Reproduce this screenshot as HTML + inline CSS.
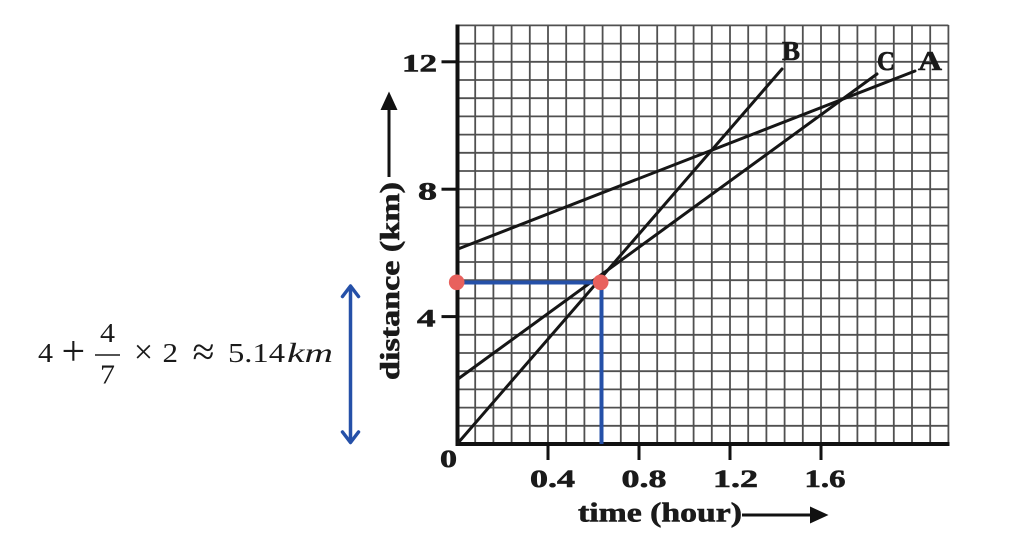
<!DOCTYPE html>
<html>
<head>
<meta charset="utf-8">
<style>
  html, body { margin: 0; padding: 0; background: #ffffff; }
  body { width: 1024px; height: 535px; overflow: hidden; }
  svg { display: block; }
  .tick { font-family: "Liberation Serif", serif; font-weight: bold; font-size: 25px; fill: #1a1a1a; stroke: #1a1a1a; stroke-width: 0.6px; }
  .lbl { font-family: "Liberation Serif", serif; font-weight: bold; font-size: 27px; fill: #1a1a1a; stroke: #1a1a1a; stroke-width: 0.6px; }
  .math { font-family: "Liberation Serif", serif; font-size: 27px; fill: #1a1a1a; }
</style>
</head>
<body>
<svg width="1024" height="535" viewBox="0 0 1024 535" xmlns="http://www.w3.org/2000/svg">
  <rect x="0" y="0" width="1024" height="535" fill="#ffffff"/>

  <g stroke="#505050" stroke-width="1.8" fill="none">
    <line x1="475.2" y1="25" x2="475.2" y2="444"/>
    <line x1="493.4" y1="25" x2="493.4" y2="444"/>
    <line x1="511.6" y1="25" x2="511.6" y2="444"/>
    <line x1="529.8" y1="25" x2="529.8" y2="444"/>
    <line x1="548.0" y1="25" x2="548.0" y2="444"/>
    <line x1="566.2" y1="25" x2="566.2" y2="444"/>
    <line x1="584.4" y1="25" x2="584.4" y2="444"/>
    <line x1="602.6" y1="25" x2="602.6" y2="444"/>
    <line x1="620.8" y1="25" x2="620.8" y2="444"/>
    <line x1="639.0" y1="25" x2="639.0" y2="444"/>
    <line x1="657.2" y1="25" x2="657.2" y2="444"/>
    <line x1="675.4" y1="25" x2="675.4" y2="444"/>
    <line x1="693.6" y1="25" x2="693.6" y2="444"/>
    <line x1="711.8" y1="25" x2="711.8" y2="444"/>
    <line x1="730.0" y1="25" x2="730.0" y2="444"/>
    <line x1="748.2" y1="25" x2="748.2" y2="444"/>
    <line x1="766.4" y1="25" x2="766.4" y2="444"/>
    <line x1="784.6" y1="25" x2="784.6" y2="444"/>
    <line x1="802.8" y1="25" x2="802.8" y2="444"/>
    <line x1="821.0" y1="25" x2="821.0" y2="444"/>
    <line x1="839.2" y1="25" x2="839.2" y2="444"/>
    <line x1="857.4" y1="25" x2="857.4" y2="444"/>
    <line x1="875.6" y1="25" x2="875.6" y2="444"/>
    <line x1="893.8" y1="25" x2="893.8" y2="444"/>
    <line x1="912.0" y1="25" x2="912.0" y2="444"/>
    <line x1="930.2" y1="25" x2="930.2" y2="444"/>
    <line x1="948.4" y1="25" x2="948.4" y2="444"/>
    <line x1="457" y1="425.8" x2="948.4" y2="425.8"/>
    <line x1="457" y1="407.6" x2="948.4" y2="407.6"/>
    <line x1="457" y1="389.4" x2="948.4" y2="389.4"/>
    <line x1="457" y1="371.2" x2="948.4" y2="371.2"/>
    <line x1="457" y1="353.0" x2="948.4" y2="353.0"/>
    <line x1="457" y1="334.8" x2="948.4" y2="334.8"/>
    <line x1="457" y1="316.6" x2="948.4" y2="316.6"/>
    <line x1="457" y1="298.4" x2="948.4" y2="298.4"/>
    <line x1="457" y1="280.2" x2="948.4" y2="280.2"/>
    <line x1="457" y1="262.0" x2="948.4" y2="262.0"/>
    <line x1="457" y1="243.8" x2="948.4" y2="243.8"/>
    <line x1="457" y1="225.6" x2="948.4" y2="225.6"/>
    <line x1="457" y1="207.4" x2="948.4" y2="207.4"/>
    <line x1="457" y1="189.2" x2="948.4" y2="189.2"/>
    <line x1="457" y1="171.0" x2="948.4" y2="171.0"/>
    <line x1="457" y1="152.8" x2="948.4" y2="152.8"/>
    <line x1="457" y1="134.6" x2="948.4" y2="134.6"/>
    <line x1="457" y1="116.4" x2="948.4" y2="116.4"/>
    <line x1="457" y1="98.2" x2="948.4" y2="98.2"/>
    <line x1="457" y1="80.0" x2="948.4" y2="80.0"/>
    <line x1="457" y1="61.8" x2="948.4" y2="61.8"/>
    <line x1="457" y1="43.6" x2="948.4" y2="43.6"/>
    <line x1="457" y1="25.4" x2="948.4" y2="25.4"/>
  </g>

  <g stroke="#111111" fill="none">
    <line x1="457.5" y1="24.5" x2="457.5" y2="446" stroke-width="4"/>
    <line x1="455.5" y1="444" x2="949.5" y2="444" stroke-width="4"/>
    <line x1="441.5" y1="61.8" x2="457" y2="61.8" stroke-width="3"/>
    <line x1="441.5" y1="189.2" x2="457" y2="189.2" stroke-width="3"/>
    <line x1="441.5" y1="316.6" x2="457" y2="316.6" stroke-width="3"/>
    <line x1="548" y1="444" x2="548" y2="460" stroke-width="3"/>
    <line x1="639" y1="444" x2="639" y2="460" stroke-width="3"/>
    <line x1="730" y1="444" x2="730" y2="460" stroke-width="3"/>
    <line x1="821" y1="444" x2="821" y2="460" stroke-width="3"/>
  </g>

  <g stroke="#161616" stroke-width="3" fill="none" stroke-linecap="round">
    <line x1="458" y1="249" x2="915" y2="71"/>
    <line x1="458" y1="443" x2="782" y2="69"/>
    <line x1="458" y1="379" x2="877" y2="74"/>
  </g>

  <text class="lbl" x="782" y="60" textLength="18" lengthAdjust="spacingAndGlyphs">B</text>
  <text class="lbl" x="877" y="70" textLength="18" lengthAdjust="spacingAndGlyphs">C</text>
  <text class="lbl" x="918" y="70" textLength="24" lengthAdjust="spacingAndGlyphs">A</text>

  <g stroke="#2550a8" stroke-width="4" fill="none">
    <line x1="457" y1="282.5" x2="601" y2="282.5"/>
    <line x1="601.5" y1="282" x2="601.5" y2="444"/>
  </g>
  <circle cx="456.7" cy="282.3" r="7.8" fill="#e8615d"/>
  <circle cx="600.7" cy="282.3" r="7.8" fill="#e8615d"/>

  <text class="tick" x="402" y="71.5" textLength="35" lengthAdjust="spacingAndGlyphs">12</text>
  <text class="tick" x="418" y="199.5" textLength="19" lengthAdjust="spacingAndGlyphs">8</text>
  <text class="tick" x="417" y="326.5" textLength="18.5" lengthAdjust="spacingAndGlyphs">4</text>
  <text class="tick" x="440" y="467" textLength="17" lengthAdjust="spacingAndGlyphs">0</text>
  <text class="tick" x="530" y="487" textLength="45" lengthAdjust="spacingAndGlyphs">0.4</text>
  <text class="tick" x="621.5" y="487" textLength="45" lengthAdjust="spacingAndGlyphs">0.8</text>
  <text class="tick" x="713" y="487" textLength="45" lengthAdjust="spacingAndGlyphs">1.2</text>
  <text class="tick" x="804.5" y="487" textLength="41" lengthAdjust="spacingAndGlyphs">1.6</text>

  <text class="lbl" x="578" y="521.5" textLength="164" lengthAdjust="spacingAndGlyphs">time (hour)</text>
  <line x1="742" y1="515" x2="812" y2="515" stroke="#111111" stroke-width="3"/>
  <polygon points="810,506.5 828.5,515 810,523.5" fill="#111111"/>

  <text class="lbl" transform="translate(399,380) rotate(-90)" x="0" y="0" textLength="198" lengthAdjust="spacingAndGlyphs">distance (km)</text>
  <line x1="389" y1="177" x2="389" y2="108" stroke="#111111" stroke-width="3"/>
  <polygon points="380.5,110 389,91.5 397.5,110" fill="#111111"/>

  <text class="math" x="38" y="362" textLength="15" lengthAdjust="spacingAndGlyphs">4</text>
  <text class="math" x="73.3" y="365" text-anchor="middle" style="font-size:42px">+</text>
  <text class="math" x="100" y="342" textLength="15" lengthAdjust="spacingAndGlyphs">4</text>
  <line x1="95" y1="355" x2="120" y2="355" stroke="#1a1a1a" stroke-width="1.6"/>
  <text class="math" x="100" y="383.5" textLength="15" lengthAdjust="spacingAndGlyphs">7</text>
  <text class="math" x="143.5" y="363" text-anchor="middle" style="font-size:34px">×</text>
  <text class="math" x="162.5" y="362" textLength="15.5" lengthAdjust="spacingAndGlyphs">2</text>
  <text class="math" x="203.5" y="365" text-anchor="middle" style="font-size:40px">≈</text>
  <text class="math" x="228" y="362" textLength="57" lengthAdjust="spacingAndGlyphs">5.14</text>
  <text class="math" x="287" y="362" font-style="italic" textLength="46" lengthAdjust="spacingAndGlyphs">km</text>

  <g stroke="#2550a8" stroke-width="3.5" fill="none" stroke-linecap="round" stroke-linejoin="round">
    <line x1="350.5" y1="287" x2="350.5" y2="441"/>
    <polyline points="342.5,296.5 350.5,286 358.5,296.5"/>
    <polyline points="342.5,432 350.5,442.5 358.5,432"/>
  </g>
</svg>
</body>
</html>
